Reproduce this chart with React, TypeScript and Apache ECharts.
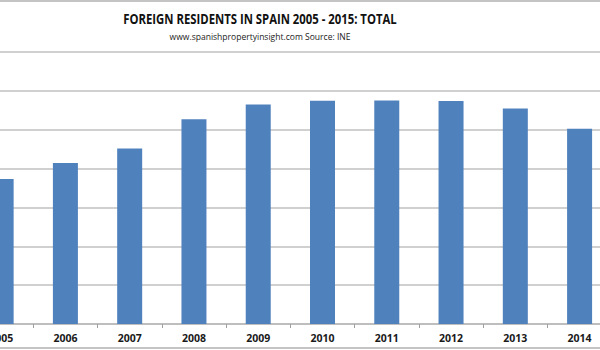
import React, { useEffect, useRef } from "react";
import * as echarts from "echarts";

const years = ["2005", "2006", "2007", "2008", "2009", "2010", "2011", "2012", "2013", "2014", "2015"];
const residents = [3730610, 4144166, 4519554, 5268762, 5648671, 5747734, 5751487, 5736258, 5546238, 5023487, 4729644];
const titleText = "FOREIGN RESIDENTS IN SPAIN 2005 - 2015: TOTAL";
const subtitleText = "www.spanishpropertyinsight.com Source: INE";

const OFFSET = 40;

export default function App() {
  const ref = useRef<HTMLDivElement>(null);
  useEffect(() => {
    if (!ref.current) return;
    const chart = echarts.init(ref.current, undefined, { renderer: "svg" });
    chart.setOption({
      animation: false,
      backgroundColor: "#ffffff",
      graphic: [
        { type: "line", shape: { x1: OFFSET, y1: 1, x2: OFFSET + 600, y2: 1 }, style: { stroke: "#c4c4c4", lineWidth: 2 } },
        { type: "line", shape: { x1: OFFSET, y1: 348, x2: OFFSET + 600, y2: 348 }, style: { stroke: "#c4c4c4", lineWidth: 2 } },
        {
          type: "text",
          x: OFFSET + 260,
          y: 19,
          scaleX: 0.81,
          style: {
            text: titleText,
            fontFamily: "'Open Sans', sans-serif",
            fontWeight: "bold",
            fontSize: 14,
            fill: "#111111",
            align: "center",
            verticalAlign: "middle",
          },
        },
        {
          type: "text",
          x: OFFSET + 260,
          y: 36,
          scaleX: 0.9,
          style: {
            text: subtitleText,
            fontFamily: "'Open Sans', sans-serif",
            fontSize: 9.5,
            fill: "#222222",
            align: "center",
            verticalAlign: "middle",
          },
        },
      ],
      grid: { left: OFFSET - 31, top: 52, width: 707, bottom: 26, containLabel: false },
      xAxis: {
        type: "category",
        data: years,
        boundaryGap: true,
        axisLine: { show: true, lineStyle: { color: "#b8b8b8", width: 1.5 } },
        axisTick: { show: true, length: 4, lineStyle: { color: "#a0a0a0" } },
        axisLabel: {
          margin: 8,
          fontFamily: "'Open Sans', sans-serif",
          fontWeight: "bold",
          fontSize: 10.5,
          color: "#1a1a1a",
        },
      },
      yAxis: {
        type: "value",
        min: 0,
        max: 7000000,
        interval: 1000000,
        axisLabel: { show: false },
        axisLine: { show: false },
        axisTick: { show: false },
        splitLine: { show: true, lineStyle: { color: "#c0c0c0", width: 1.5 } },
      },
      series: [
        {
          type: "bar",
          data: residents,
          barWidth: 25,
          itemStyle: { color: "#4f81bd" },
        },
      ],
    });
    return () => chart.dispose();
  }, []);
  return (
    <div style={{ position: "fixed", left: 0, top: 0, width: 600, height: 350, overflow: "hidden", background: "#fff" }}>
      <div ref={ref} style={{ position: "absolute", left: -OFFSET, top: 0, width: 760, height: 350 }} />
    </div>
  );
}
